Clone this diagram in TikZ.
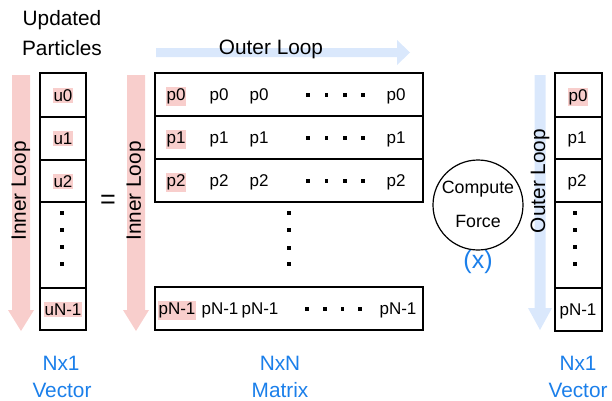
\documentclass[tikz,border=0pt]{standalone}
\usepackage{fontspec}
\setmainfont{Liberation Sans}
\definecolor{hlpink}{HTML}{F8CECC}
\definecolor{loopblue}{HTML}{DAE8FC}
\definecolor{labelblue}{HTML}{1B7FEA}
\tikzset{
  box/.style={draw=black, line width=1.6pt},
  cell/.style={anchor=base, inner sep=0pt, font=\fontsize{17}{19}\selectfont},
  hlcell/.style={cell, fill=hlpink, inner xsep=1pt, inner ysep=1.5pt},
  opcell/.style={anchor=base, inner sep=0pt, font=\fontsize{17.8}{20}\selectfont},
  big/.style={font=\fontsize{20.8}{24}\selectfont, inner sep=0pt},
  bluelabel/.style={big, anchor=base, text=labelblue},
  dotmark/.style={fill=black}
}
\newcommand{\sqdot}[2]{\fill[dotmark] (#1-1.6,#2-1.6) rectangle (#1+1.6,#2+1.6);}
\begin{document}
\begin{tikzpicture}[x=1pt,y=-1pt]
\useasboundingbox (0,0) rectangle (612,400);

% heading of the result vector
\node[big, anchor=base] (upd) at (62,25) {Updated};
\node[big, anchor=base] (part) at (62,55) {Particles};

% loop arrows
\fill[hlpink] (12,75) -- (30,75) -- (30,310) -- (34,310) -- (21,331) -- (8,310) -- (12,310) -- cycle;
\fill[hlpink] (127,75) -- (145,75) -- (145,310) -- (149,310) -- (136,331) -- (123,310) -- (127,310) -- cycle;
\fill[loopblue] (534.5,75) -- (545.5,75) -- (545.5,308) -- (552,308) -- (540,330) -- (528,308) -- (534.5,308) -- cycle;
\fill[loopblue] (156,48) -- (397,48) -- (397,40) -- (410,52.5) -- (397,65) -- (397,57) -- (156,57) -- cycle;

\node[big, rotate=90] (inl1) at (21,191) {Inner Loop};
\node[big, rotate=90] (inl2) at (136,191) {Inner Loop};
\node[big, rotate=90] (outl) at (540,181) {Outer Loop};
\node[big, anchor=base] (outtop) at (271,54) {Outer Loop};

% left vector u
\draw[box] (40,73) rectangle (86,330);
\draw[box] (40,117) -- (86,117) (40,160) -- (86,160) (40,202) -- (86,202) (40,288) -- (86,288);
\node[hlcell] (u0) at (63,101) {u0};
\node[hlcell] (u1) at (63,144) {u1};
\node[hlcell] (u2) at (63,187) {u2};
\node[hlcell] (un) at (63,315) {uN-1};
\sqdot{62}{213}\sqdot{62}{230}\sqdot{62}{247}\sqdot{62}{264}

% equals sign
\node[font=\fontsize{27}{30}\selectfont, inner sep=0pt] (eq) at (108,202) {=};

% matrix block
\draw[box] (155,73) rectangle (423,202);
\draw[box] (155,116) -- (423,116) (155,159) -- (423,159);
\draw[box] (155,287) rectangle (423,330);

\node[hlcell] (m00) at (176,100.5) {p0};
\node[cell] (m01) at (219,100.5) {p0};
\node[cell] (m02) at (259,100.5) {p0};
\node[cell] (m03) at (396,100.5) {p0};
\sqdot{308}{95}\sqdot{326.5}{95}\sqdot{345}{95}\sqdot{363}{95}

\node[hlcell] (m10) at (176,143.5) {p1};
\node[cell] (m11) at (219,143.5) {p1};
\node[cell] (m12) at (259,143.5) {p1};
\node[cell] (m13) at (396,143.5) {p1};
\sqdot{308}{138}\sqdot{326.5}{138}\sqdot{345}{138}\sqdot{363}{138}

\node[hlcell] (m20) at (176,186.5) {p2};
\node[cell] (m21) at (219,186.5) {p2};
\node[cell] (m22) at (259,186.5) {p2};
\node[cell] (m23) at (396,186.5) {p2};
\sqdot{308}{181}\sqdot{326.5}{181}\sqdot{345}{181}\sqdot{363}{181}

\sqdot{289}{213}\sqdot{289}{230}\sqdot{289}{248}\sqdot{289}{264}

\node[hlcell] (mn0) at (177,314.5) {pN-1};
\node[cell] (mn1) at (220,314.5) {pN-1};
\node[cell] (mn2) at (260,314.5) {pN-1};
\node[cell] (mn3) at (398,314.5) {pN-1};
\sqdot{307}{309}\sqdot{325}{309}\sqdot{342.5}{309}\sqdot{360}{309}

% compute-force operator
\node[circle, draw=black, line width=1.2pt, minimum size=90pt, inner sep=0pt] (force) at (478,205) {};
\node[opcell] (fc1) at (478,193) {Compute};
\node[opcell] (fc2) at (478,227) {Force};
\node[bluelabel, font=\fontsize{25}{28}\selectfont] (op) at (478,268) {(x)};

% right vector p
\draw[box] (555,73) rectangle (602,331);
\draw[box] (555,117) -- (602,117) (555,159) -- (602,159) (555,202) -- (602,202) (555,288) -- (602,288);
\node[hlcell] (r0) at (578,101) {p0};
\node[cell] (r1) at (577,143) {p1};
\node[cell] (r2) at (577,186) {p2};
\node[cell] (rn) at (578,315) {pN-1};
\sqdot{575}{213}\sqdot{575}{230}\sqdot{575}{247}\sqdot{575}{264}

% dimension labels
\node[bluelabel] (l1a) at (61,370) {Nx1};
\node[bluelabel] (l1b) at (62,397) {Vector};
\node[bluelabel] (l2a) at (280,370) {NxN};
\node[bluelabel] (l2b) at (280,397) {Matrix};
\node[bluelabel] (l3a) at (578,370) {Nx1};
\node[bluelabel] (l3b) at (578,397) {Vector};
\end{tikzpicture}
\end{document}
